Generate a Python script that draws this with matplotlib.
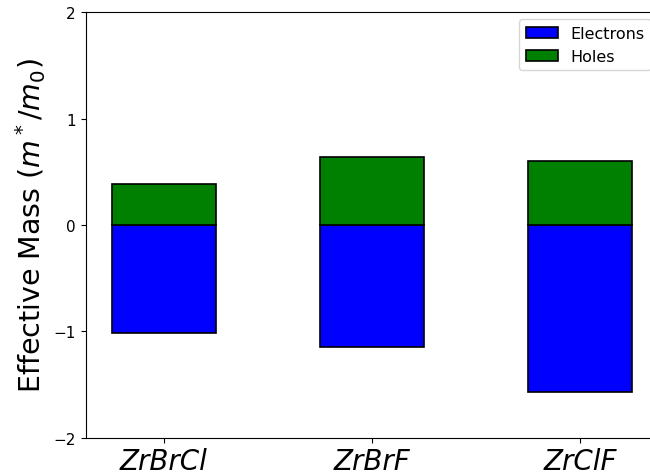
import matplotlib
matplotlib.use("Agg")
import matplotlib.pyplot as plt
import numpy as np

materials = ["ZrBrCl", "ZrBrF", "ZrClF"]
electrons = [-1.02, -1.15, -1.57]
holes = [0.39, 0.64, 0.60]

fig = plt.figure(figsize=(6.5, 4.77), dpi=100)
ax = fig.add_axes([85.7 / 650, 1 - 438.7 / 477, (658 - 85.7) / 650, (438.7 - 13.3) / 477])

x = np.arange(len(materials))
width = 0.5
ax.bar(x, electrons, width, color="blue", edgecolor="black", linewidth=1.2, label="Electrons")
ax.bar(x, holes, width, color="green", edgecolor="black", linewidth=1.2, label="Holes")

ax.set_ylim(-2, 2)
ax.set_yticks([-2, -1, 0, 1, 2])
ax.set_xticks(x)
ax.set_xticklabels(materials, fontsize=20, fontstyle="italic")
ax.tick_params(axis="y", labelsize=11)
ax.set_ylabel(r"Effective Mass ($m^*/m_0$)", fontsize=20.5)
ax.spines["right"].set_visible(False)
ax.legend(loc="upper right", fontsize=11.5, borderaxespad=0.45)

fig.savefig("out.png", dpi=100)
